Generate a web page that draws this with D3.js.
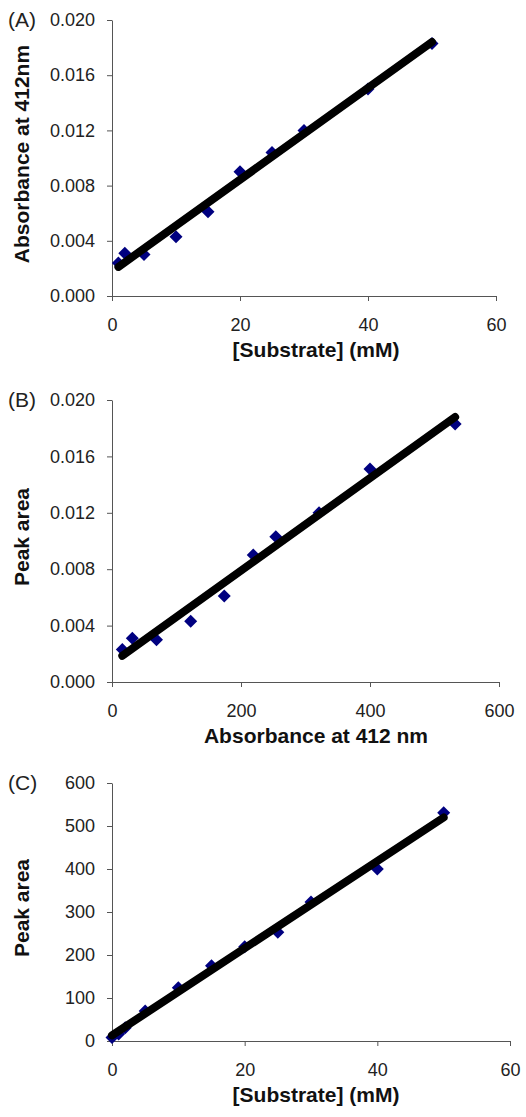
<!DOCTYPE html>
<html>
<head>
<meta charset="utf-8">
<script src="https://cdn.jsdelivr.net/npm/d3@7"></script>
<style>
  body { margin: 0; background: #fff; }
  svg { display: block; font-family: "Liberation Sans", Arial, sans-serif; }
  .tick text { font-size: 18px; fill: #222; }
  .tick line, .domain { stroke: #555; }
  .axis-title { font-size: 21px; font-weight: bold; fill: #111; }
  .panel-label { font-size: 21px; fill: #222; }
</style>
</head>
<body>
<svg id="chart"></svg>
<script>
// Panel A: absorbance vs substrate
const substrateA = [1, 2, 5, 10, 15, 20, 25, 30, 40, 50];
const absorbanceA = [0.0024, 0.0031, 0.0030, 0.0043, 0.0061, 0.0090, 0.0104, 0.0120, 0.0150, 0.0183];

// Panel B: peak area (y) vs absorbance (x) -- axis titles as in the original
const absorbanceB = [16, 31.5, 69, 122, 174, 219, 254, 321, 400, 532];
const peakAreaB = [0.0023, 0.0031, 0.0030, 0.0043, 0.0061, 0.0090, 0.0103, 0.0120, 0.0151, 0.0183];

// Panel C: peak area vs substrate
const substrateC = [0, 1, 2, 5, 10, 15, 20, 25, 30, 40, 50];
const peakAreaC = [8, 16, 31, 70, 124, 175, 219, 253, 323, 400, 531];

const ticksAbs = [0, 0.004, 0.008, 0.012, 0.016, 0.020];
const ticksSubstrate = [0, 20, 40, 60];
const ticksB = [0, 200, 400, 600];
const ticksPeakC = [0, 100, 200, 300, 400, 500, 600];

const svg = d3.select("#chart").attr("width", 526).attr("height", 1117);

// least squares fit, like the Excel trendline
function fit(xs, ys) {
  const mx = d3.mean(xs), my = d3.mean(ys);
  let sxy = 0, sxx = 0;
  xs.forEach((x, i) => {
    sxy += (x - mx) * (ys[i] - my);
    sxx += (x - mx) * (x - mx);
  });
  const slope = sxy / sxx;
  return { slope, intercept: my - slope * mx };
}

function drawPanel(p) {
  const x = d3.scaleLinear().domain(p.xDomain).range([p.left, p.right]);
  const y = d3.scaleLinear().domain(p.yDomain).range([p.bottom, p.top]);

  svg.append("g")
    .attr("transform", `translate(0,${p.bottom})`)
    .call(d3.axisBottom(x).tickValues(p.xTicks).tickSize(5).tickSizeOuter(0).tickPadding(17).tickFormat(d3.format("d")));

  svg.append("g")
    .attr("transform", `translate(${p.left},0)`)
    .call(d3.axisLeft(y).tickValues(p.yTicks).tickSize(5).tickSizeOuter(0).tickPadding(12).tickFormat(p.yFormat));

  const pts = p.xs.map((d, i) => ({ x: d, y: p.ys[i] }));

  // markers under the trendline
  svg.append("g").selectAll("path")
    .data(pts)
    .join("path")
    .attr("d", "M0,-6.5L6.5,0L0,6.5L-6.5,0Z")
    .attr("transform", (d) => `translate(${x(d.x)},${y(d.y)})`)
    .attr("fill", "#000080");

  const f = fit(p.xs, p.ys);
  const ends = d3.extent(p.xs);
  svg.append("line")
    .attr("x1", x(ends[0])).attr("y1", y(f.intercept + f.slope * ends[0]))
    .attr("x2", x(ends[1])).attr("y2", y(f.intercept + f.slope * ends[1]))
    .attr("stroke", "#000")
    .attr("stroke-width", 8)
    .attr("stroke-linecap", "round");

  svg.append("text")
    .attr("class", "axis-title")
    .attr("x", 316).attr("y", p.bottom + 61)
    .attr("text-anchor", "middle")
    .text(p.xTitle);

  svg.append("text")
    .attr("class", "axis-title")
    .attr("transform", `translate(22,${(p.top + p.bottom) / 2 - 4}) rotate(-90)`)
    .attr("dy", "0.35em")
    .attr("text-anchor", "middle")
    .text(p.yTitle);

  svg.append("text")
    .attr("class", "panel-label")
    .attr("x", 8).attr("y", p.top + 7)
    .text(p.label);
}

drawPanel({
  label: "(A)", left: 112, right: 496, top: 20, bottom: 296,
  xDomain: [0, 60], yDomain: [0, 0.02], xTicks: ticksSubstrate, yTicks: ticksAbs,
  yFormat: d3.format(".3f"), xs: substrateA, ys: absorbanceA,
  xTitle: "[Substrate] (mM)", yTitle: "Absorbance at 412nm"
});

drawPanel({
  label: "(B)", left: 112, right: 499, top: 400, bottom: 682,
  xDomain: [0, 600], yDomain: [0, 0.02], xTicks: ticksB, yTicks: ticksAbs,
  yFormat: d3.format(".3f"), xs: absorbanceB, ys: peakAreaB,
  xTitle: "Absorbance at 412 nm", yTitle: "Peak area"
});

drawPanel({
  label: "(C)", left: 112, right: 510, top: 783, bottom: 1041,
  xDomain: [0, 60], yDomain: [0, 600], xTicks: ticksSubstrate, yTicks: ticksPeakC,
  yFormat: d3.format("d"), xs: substrateC, ys: peakAreaC,
  xTitle: "[Substrate] (mM)", yTitle: "Peak area"
});
</script>
</body>
</html>
